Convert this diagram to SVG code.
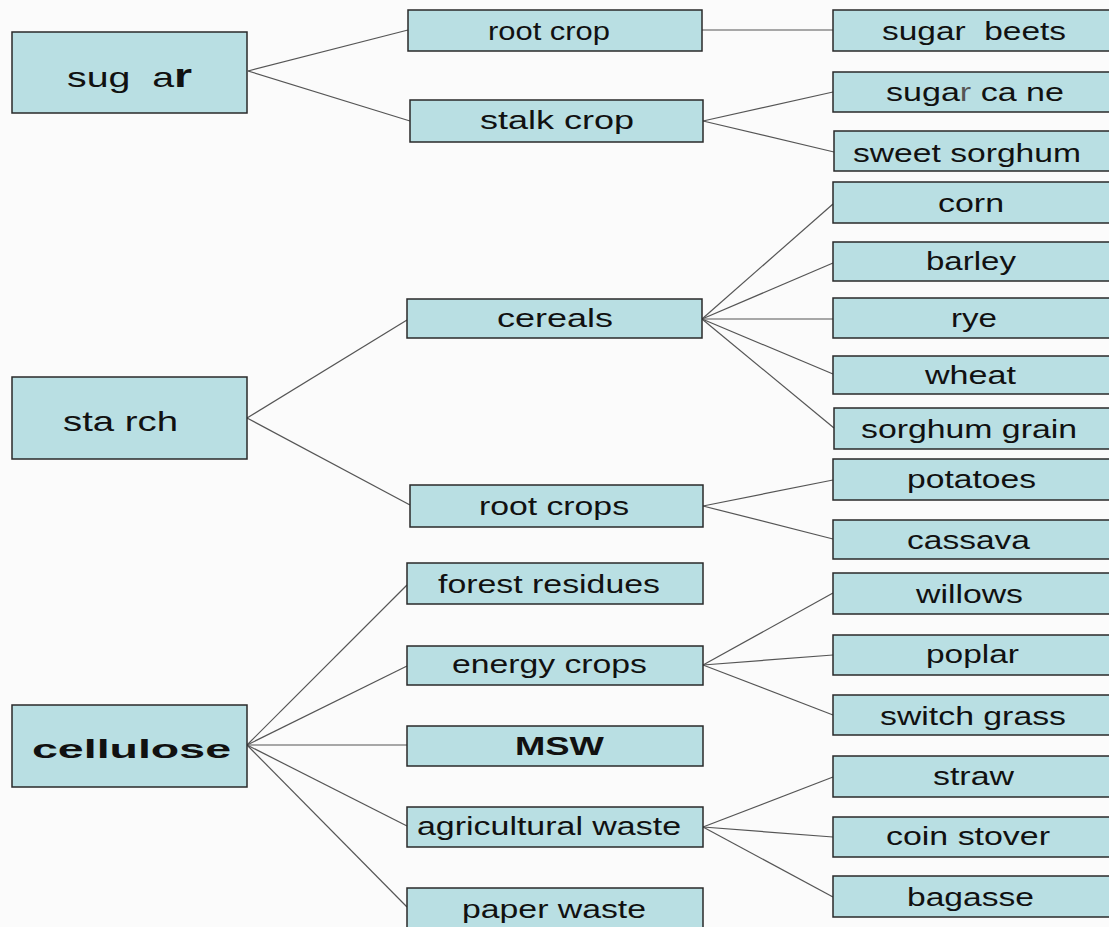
<svg xmlns="http://www.w3.org/2000/svg" width="1109" height="927" viewBox="0 0 1109 927">
<style>
.bg{fill:#fbfbfb}
.box{fill:#b9dfe3;stroke:#2a2a2a;stroke-width:1.5}
.t{font-family:"Liberation Sans",Arial,sans-serif;fill:#111;font-size:26px;white-space:pre}
.big{font-size:28px}
.b{font-weight:bold}
.conn line{stroke:#555;stroke-width:1.2}
</style>
<rect class="bg" x="0" y="0" width="1109" height="927"/>
<g class="conn">
<line x1="248" y1="71" x2="408" y2="30"/>
<line x1="248" y1="71" x2="410" y2="121"/>
<line x1="702" y1="30" x2="833" y2="30"/>
<line x1="703" y1="121" x2="833" y2="92"/>
<line x1="703" y1="121" x2="834" y2="152"/>
<line x1="247" y1="418" x2="407" y2="320"/>
<line x1="247" y1="418" x2="410" y2="505"/>
<line x1="702" y1="319" x2="833" y2="204"/>
<line x1="702" y1="319" x2="833" y2="263"/>
<line x1="702" y1="319" x2="833" y2="319"/>
<line x1="702" y1="319" x2="833" y2="374"/>
<line x1="702" y1="319" x2="834" y2="428"/>
<line x1="703" y1="506" x2="833" y2="480"/>
<line x1="703" y1="506" x2="833" y2="539"/>
<line x1="247" y1="745" x2="407" y2="585"/>
<line x1="247" y1="745" x2="407" y2="666"/>
<line x1="247" y1="745" x2="407" y2="745"/>
<line x1="247" y1="745" x2="407" y2="826"/>
<line x1="247" y1="745" x2="407" y2="907"/>
<line x1="703" y1="665" x2="833" y2="593"/>
<line x1="703" y1="665" x2="833" y2="655"/>
<line x1="703" y1="665" x2="833" y2="715"/>
<line x1="703" y1="827" x2="833" y2="777"/>
<line x1="703" y1="827" x2="833" y2="837"/>
<line x1="703" y1="827" x2="833" y2="897"/>
</g>
<g id="sugar"><rect class="box" x="12" y="32" width="235" height="81"/><text class="t big" x="67" y="87" textLength="125" lengthAdjust="spacingAndGlyphs">sug  a<tspan class="b" font-size="33">r</tspan></text></g>
<g id="starch"><rect class="box" x="12" y="377" width="235" height="82"/><text class="t big" x="63" y="431" textLength="115" lengthAdjust="spacingAndGlyphs">sta rch</text></g>
<g id="cellulose"><rect class="box" x="12" y="705" width="235" height="82"/><text class="t b" font-size="33" x="32" y="758" textLength="199" lengthAdjust="spacingAndGlyphs">cellulose</text></g>
<g id="root-crop"><rect class="box" x="408" y="10" width="294" height="41"/><text class="t" x="488" y="40" textLength="122" lengthAdjust="spacingAndGlyphs">root crop</text></g>
<g id="stalk-crop"><rect class="box" x="410" y="100" width="293" height="42"/><text class="t" x="480" y="129" textLength="154" lengthAdjust="spacingAndGlyphs">stalk crop</text></g>
<g id="cereals"><rect class="box" x="407" y="299" width="295" height="39"/><text class="t" x="497" y="327" textLength="116" lengthAdjust="spacingAndGlyphs">cereals</text></g>
<g id="root-crops"><rect class="box" x="410" y="485" width="293" height="42"/><text class="t" x="479" y="515" textLength="150" lengthAdjust="spacingAndGlyphs">root crops</text></g>
<g id="forest-residues"><rect class="box" x="407" y="563" width="296" height="41"/><text class="t" x="438" y="593" textLength="222" lengthAdjust="spacingAndGlyphs">forest residues</text></g>
<g id="energy-crops"><rect class="box" x="407" y="646" width="296" height="39"/><text class="t" x="452" y="673" textLength="195" lengthAdjust="spacingAndGlyphs">energy crops</text></g>
<g id="msw"><rect class="box" x="407" y="726" width="296" height="40"/><text class="t b" x="515" y="755" textLength="89" lengthAdjust="spacingAndGlyphs">MSW</text></g>
<g id="agricultural-waste"><rect class="box" x="407" y="807" width="296" height="40"/><text class="t" x="417" y="835" textLength="264" lengthAdjust="spacingAndGlyphs">agricultural waste</text></g>
<g id="paper-waste"><rect class="box" x="407" y="888" width="296" height="45"/><text class="t" x="462" y="918" textLength="184" lengthAdjust="spacingAndGlyphs">paper waste</text></g>
<g id="sugar-beets"><rect class="box" x="833" y="10" width="285" height="41"/><text class="t" x="882" y="40" textLength="184" lengthAdjust="spacingAndGlyphs">sugar  beets</text></g>
<g id="sugar-cane"><rect class="box" x="833" y="72" width="285" height="40"/><text class="t" x="886" y="101" textLength="178" lengthAdjust="spacingAndGlyphs">suga<tspan fill="#555">r</tspan> ca ne</text></g>
<g id="sweet-sorghum"><rect class="box" x="834" y="131" width="285" height="40"/><text class="t" x="853" y="162" textLength="228" lengthAdjust="spacingAndGlyphs">sweet sorghum</text></g>
<g id="corn"><rect class="box" x="833" y="182" width="285" height="41"/><text class="t" x="938" y="212" textLength="66" lengthAdjust="spacingAndGlyphs">corn</text></g>
<g id="barley"><rect class="box" x="833" y="242" width="285" height="39"/><text class="t" x="926" y="270" textLength="90" lengthAdjust="spacingAndGlyphs">barley</text></g>
<g id="rye"><rect class="box" x="833" y="298" width="285" height="40"/><text class="t" x="951" y="327" textLength="46" lengthAdjust="spacingAndGlyphs">rye</text></g>
<g id="wheat"><rect class="box" x="833" y="356" width="285" height="38"/><text class="t" x="925" y="384" textLength="91" lengthAdjust="spacingAndGlyphs">wheat</text></g>
<g id="sorghum-grain"><rect class="box" x="834" y="408" width="285" height="41"/><text class="t" x="861" y="438" textLength="216" lengthAdjust="spacingAndGlyphs">sorghum grain</text></g>
<g id="potatoes"><rect class="box" x="833" y="459" width="285" height="41"/><text class="t" x="907" y="488" textLength="129" lengthAdjust="spacingAndGlyphs">potatoes</text></g>
<g id="cassava"><rect class="box" x="833" y="520" width="285" height="39"/><text class="t" x="907" y="549" textLength="123" lengthAdjust="spacingAndGlyphs">cassava</text></g>
<g id="willows"><rect class="box" x="833" y="573" width="285" height="41"/><text class="t" x="916" y="603" textLength="107" lengthAdjust="spacingAndGlyphs">willows</text></g>
<g id="poplar"><rect class="box" x="833" y="635" width="285" height="40"/><text class="t" x="926" y="663" textLength="93" lengthAdjust="spacingAndGlyphs">poplar</text></g>
<g id="switch-grass"><rect class="box" x="833" y="695" width="285" height="40"/><text class="t" x="880" y="725" textLength="186" lengthAdjust="spacingAndGlyphs">switch grass</text></g>
<g id="straw"><rect class="box" x="833" y="756" width="285" height="41"/><text class="t" x="933" y="785" textLength="81" lengthAdjust="spacingAndGlyphs">straw</text></g>
<g id="coin-stover"><rect class="box" x="833" y="817" width="285" height="40"/><text class="t" x="886" y="845" textLength="164" lengthAdjust="spacingAndGlyphs">coin stover</text></g>
<g id="bagasse"><rect class="box" x="833" y="876" width="285" height="41"/><text class="t" x="907" y="906" textLength="127" lengthAdjust="spacingAndGlyphs">bagasse</text></g>
</svg>
